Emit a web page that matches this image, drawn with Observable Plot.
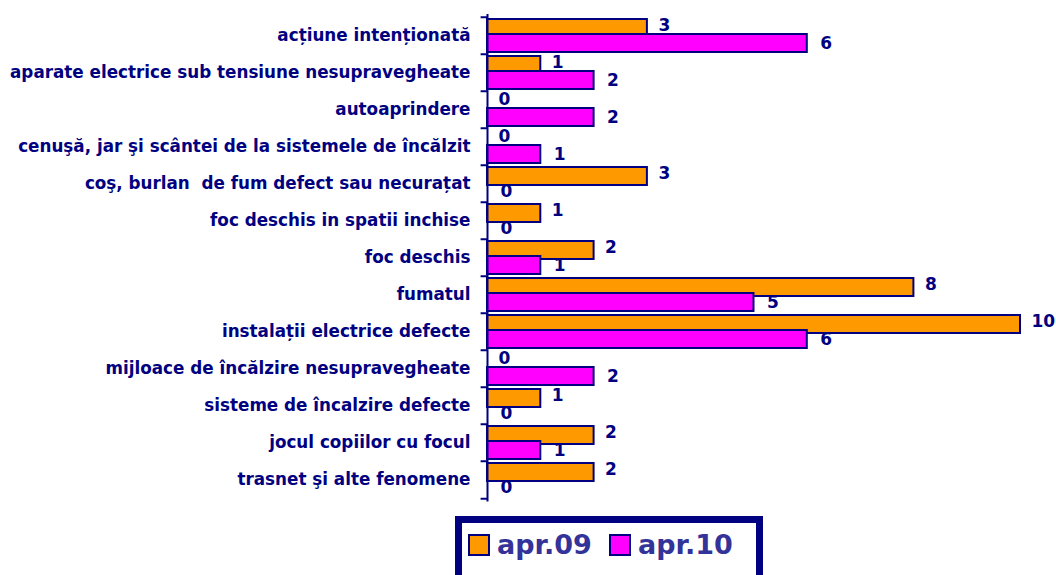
<!DOCTYPE html>
<html>
<head>
<meta charset="utf-8">
<script src="https://cdn.jsdelivr.net/npm/d3@7"></script>
<script src="https://cdn.jsdelivr.net/npm/@observablehq/plot@0.6"></script>
<style>
  html, body { margin: 0; padding: 0; background: #ffffff; }
  #wrap { position: relative; width: 1056px; height: 575px; overflow: hidden; background: #fff; }
  #legend {
    position: absolute; left: 455px; top: 516px; width: 294px; height: 80px;
    border: 7px solid #000080; background: #fff;
    font-family: "DejaVu Sans", Verdana, sans-serif; font-weight: bold; font-size: 27px; color: #333399;
  }
  .item { position: absolute; top: 6px; display: flex; align-items: center; }
  .sw { width: 18px; height: 18px; border: 2px solid #000080; margin-right: 7px; }
</style>
</head>
<body>
<div id="wrap">
  <div id="chart"></div>
  <div id="legend"></div>
</div>
<script>
const categories = [
  "acțiune intenționată",
  "aparate electrice sub tensiune nesupravegheate",
  "autoaprindere",
  "cenuşă, jar şi scântei de la sistemele de încălzit",
  "coş, burlan  de fum defect sau necurațat",
  "foc deschis in spatii inchise",
  "foc deschis",
  "fumatul",
  "instalații electrice defecte",
  "mijloace de încălzire nesupravegheate",
  "sisteme de încalzire defecte",
  "jocul copiilor cu focul",
  "trasnet şi alte fenomene"
];
const seriesNames = ["apr.09", "apr.10"];
const apr09 = [3, 1, 0, 0, 3, 1, 2, 8, 10, 0, 1, 2, 2];
const apr10 = [6, 2, 2, 1, 0, 0, 1, 5, 6, 2, 0, 1, 0];
const colors = ["#FF9900", "#FF00FF"];

const d09 = categories.map((c, i) => ({cat: c, v: apr09[i]}));
const d10 = categories.map((c, i) => ({cat: c, v: apr10[i]}));
const navy = "#000080";
const band = (501.5 - 14) / categories.length;

const chart = Plot.plot({
  width: 1056,
  height: 515,
  marginLeft: 487,
  marginRight: 36,
  marginTop: 14,
  marginBottom: 13.5,
  x: {domain: [0, 10], axis: null},
  y: {domain: categories, padding: 0, axis: null},
  style: {fontFamily: "'DejaVu Sans', Verdana, sans-serif", fontWeight: "bold", color: navy, background: "white", overflow: "visible"},
  marks: [
    Plot.barX(d09.filter(d => d.v > 0), {y: "cat", x: "v", fill: colors[0], stroke: navy, strokeWidth: 2, insetTop: 2, insetBottom: 17}),
    Plot.barX(d10.filter(d => d.v > 0), {y: "cat", x: "v", fill: colors[1], stroke: navy, strokeWidth: 2, insetTop: 17, insetBottom: 2}),
    Plot.text(d09, {y: "cat", x: "v", text: d => String(d.v), dx: 11, dy: -10, textAnchor: "start", fontSize: 17, fill: navy}),
    Plot.text(d10, {y: "cat", x: "v", text: d => String(d.v), dx: 13, dy: 8, textAnchor: "start", fontSize: 17, fill: navy}),
    Plot.ruleX([0], {stroke: navy, strokeWidth: 2}),
    Plot.ruleY(categories, {y: d => d, x1: -0.12, x2: 0, dy: -band / 2, stroke: navy, strokeWidth: 2}),
    Plot.ruleY([categories[categories.length - 1]], {y: d => d, x1: -0.12, x2: 0, dy: band / 2, stroke: navy, strokeWidth: 2}),
    Plot.text(categories, {y: d => d, x: 0, dx: -17, textAnchor: "end", fontSize: 16.8, fill: navy})
  ]
});
document.getElementById("chart").appendChild(chart);

const legend = document.getElementById("legend");
const lefts = [6, 147];
seriesNames.forEach((name, i) => {
  const it = document.createElement("div");
  it.className = "item";
  it.style.left = lefts[i] + "px";
  const sw = document.createElement("div");
  sw.className = "sw";
  sw.style.background = colors[i];
  const tx = document.createElement("span");
  tx.textContent = name;
  it.appendChild(sw);
  it.appendChild(tx);
  legend.appendChild(it);
});
</script>
</body>
</html>
